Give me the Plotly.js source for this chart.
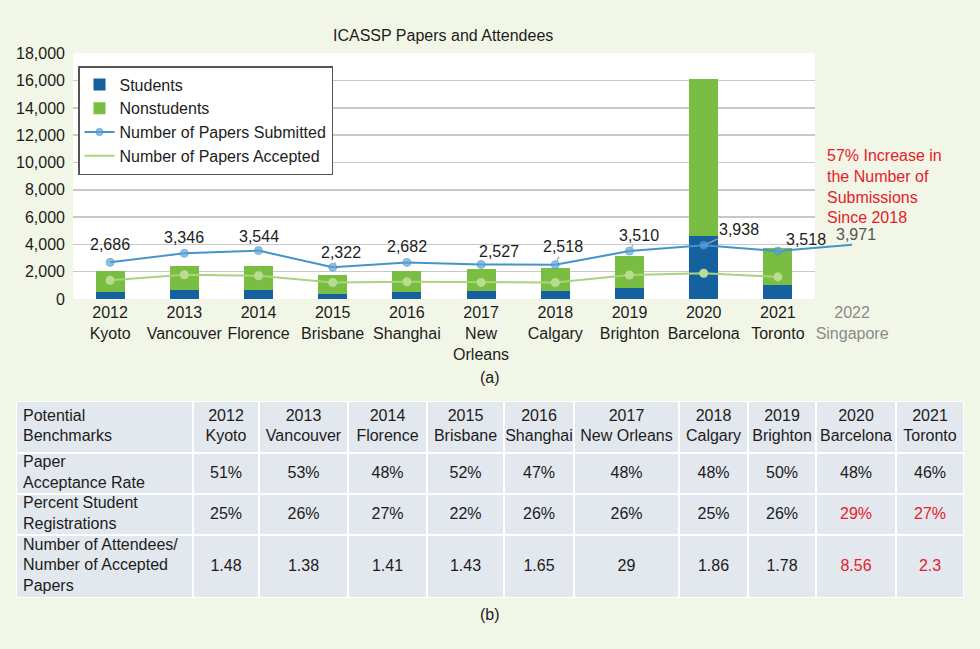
<!DOCTYPE html>
<html>
<head>
<meta charset="utf-8">
<script src="https://cdn.plot.ly/plotly-3.0.1.min.js"></script>
<style>html,body{margin:0;padding:0;background:#f2f6e6;}</style>
</head>
<body>
<div id="chart" style="width:980px;height:649px;"></div>
<script>
// ---------- data ----------
const years = ['2012','2013','2014','2015','2016','2017','2018','2019','2020','2021','2022'];
const cities = ['Kyoto','Vancouver','Florence','Brisbane','Shanghai','New Orleans','Calgary','Brighton','Barcelona','Toronto','Singapore'];
const students    = [507, 636, 648, 380, 541, 572, 562, 812, 4650, 1005];
const nonstudents = [1520, 1811, 1751, 1347, 1539, 1650, 1686, 2312, 11450, 2700];
const submitted   = [2686, 3346, 3544, 2322, 2682, 2527, 2518, 3510, 3938, 3518, 3971];
const accepted    = [1370, 1773, 1701, 1207, 1261, 1213, 1209, 1755, 1890, 1618];

const benchmarkHeader = 'Potential<br>Benchmarks';
const benchmarkLabels = ['Paper<br>Acceptance Rate', 'Percent Student<br>Registrations', 'Number of Attendees/<br>Number of Accepted<br>Papers'];
const acceptanceRate   = ['51%','53%','48%','52%','47%','48%','48%','50%','48%','46%'];
const studentShare     = ['25%','26%','27%','22%','26%','26%','25%','26%','29%','27%'];
const attendeesPerPaper = ['1.48','1.38','1.41','1.43','1.65','29','1.86','1.78','8.56','2.3'];
const tableRows = [acceptanceRate, studentShare, attendeesPerPaper];

const chartTitle = 'ICASSP Papers and Attendees';
const note = '57% Increase in<br>the Number of<br>Submissions<br>Since 2018';

// ---------- styling / layout ----------
const W = 980, H = 649;
const FONT = 'Liberation Sans, Arial, Helvetica, sans-serif';
const TXT = '#1c1c1c';
const RED = '#e8202a';
const plotL = 73, plotR = 815, plotT = 53.3, plotB = 299;
const catW = (plotR - plotL) / 10;
const xDom = [plotL / W, plotR / W];
const x2Dom = [plotL / W, (plotR + catW) / W];
const yDom = [1 - plotB / H, 1 - plotT / H];

const tblL = 16, tblR = 964, tblT = 401, tblB = 598;
const colWidths = [177, 66, 89, 79, 77, 70, 105, 69, 68, 80, 68];
const rowHeights = [52, 41, 41, 63];
const colEdges = [0]; colWidths.forEach(w => colEdges.push(colEdges[colEdges.length-1] + w));
const rowEdges = [0]; rowHeights.forEach(h => rowEdges.push(rowEdges[rowEdges.length-1] + h));
const colCenters = colWidths.map((w,i) => colEdges[i] + w/2);
const rowCenters = rowHeights.map((h,i) => rowEdges[i] + h/2);
const highlightRows = [1, 2];          // indices in tableRows drawn red
const highlightYears = ['2020','2021'];

// label offsets (px) and leader flags for the submitted-paper labels
const labelOffsets = [[0,-18],[0,-16],[0,-14],[8,-15],[0,-16],[18,-13],[8,-18],[9,-16],[35,-16],[28,-11],[4,-10]];
const labelLeader  = [false,false,false,true,false,false,true,true,true,true,false];

const barYears = years.slice(0, 10);
const axisText = years.map((y,i) => {
  const t = y + '<br>' + cities[i].replace(' ', '<br>');
  return i === years.length - 1 ? '<span style="color:#8a8a8a">' + t + '</span>' : t;
});

// ---------- traces ----------
const traces = [
  {type:'bar', name:'Students', x:barYears, y:students, marker:{color:'#15609f'}, xaxis:'x', yaxis:'y', hoverinfo:'skip'},
  {type:'bar', name:'Nonstudents', x:barYears, y:nonstudents, marker:{color:'#79bd42'}, xaxis:'x', yaxis:'y', hoverinfo:'skip'},
  {type:'scatter', mode:'lines+markers', name:'Number of Papers Submitted', x:years, y:submitted,
   line:{color:'#4593cb', width:2}, marker:{color:'#5ba4d8', size:years.map((_,i)=> i===years.length-1 ? 0 : 8), line:{color:'#4593cb', width:1}},
   xaxis:'x2', yaxis:'y2', hoverinfo:'skip', cliponaxis:false},
  {type:'scatter', mode:'lines', name:'Number of Papers Accepted', x:barYears, y:accepted,
   line:{color:'#a9d47c', width:2}, xaxis:'x2', yaxis:'y2', hoverinfo:'skip'},
  {type:'scatter', mode:'markers', showlegend:false, x:barYears, y:accepted,
   marker:{color:'#b8dd91', size:9}, xaxis:'x2', yaxis:'y2', hoverinfo:'skip'},
  // table cells
  {type:'heatmap', x:colEdges, y:rowEdges, z:rowHeights.map(()=>colWidths.map(()=>1)), zmin:0, zmax:2,
   colorscale:[[0,'#e3e7ee'],[1,'#e3e7ee']], showscale:false, xgap:2, ygap:2, hoverinfo:'skip', xaxis:'x3', yaxis:'y3'}
];

// first column labels
traces.push({type:'scatter', mode:'text', showlegend:false, hoverinfo:'skip', xaxis:'x3', yaxis:'y3',
  x: rowCenters.map(()=>7), y: rowCenters, text:[benchmarkHeader].concat(benchmarkLabels),
  textposition:'middle right', textfont:{family:FONT, size:16, color:TXT}});
// header + value cells
const cx = [], cy = [], ct = [], cc = [];
barYears.forEach((y,i) => { cx.push(colCenters[i+1]); cy.push(rowCenters[0]); ct.push(y + '<br>' + cities[i]); cc.push(TXT); });
tableRows.forEach((row,r) => row.forEach((v,i) => {
  cx.push(colCenters[i+1]); cy.push(rowCenters[r+1]); ct.push(v);
  cc.push(highlightRows.includes(r) && highlightYears.includes(barYears[i]) ? RED : TXT);
}));
traces.push({type:'scatter', mode:'text', showlegend:false, hoverinfo:'skip', xaxis:'x3', yaxis:'y3',
  x:cx, y:cy, text:ct, textposition:'middle center', textfont:{family:FONT, size:16, color:cc}});

// ---------- annotations ----------
const annotations = [
  {xref:'paper', yref:'paper', x:443/W, y:1-35/H, xanchor:'center', yanchor:'middle', text:chartTitle, showarrow:false, font:{family:FONT, size:16, color:TXT}},
  {xref:'paper', yref:'paper', x:490/W, y:1-377/H, xanchor:'center', yanchor:'middle', text:'(a)', showarrow:false, font:{family:FONT, size:16, color:TXT}},
  {xref:'paper', yref:'paper', x:490/W, y:1-614/H, xanchor:'center', yanchor:'middle', text:'(b)', showarrow:false, font:{family:FONT, size:16, color:TXT}},
  {xref:'paper', yref:'paper', x:825/W, y:1-145/H, xanchor:'left', yanchor:'top', align:'left', text:note, showarrow:false, font:{family:FONT, size:16, color:RED}}
];
submitted.forEach((v,i) => {
  const [dx, dy] = labelOffsets[i];
  const a = {xref:'x2', yref:'y2', x:i, y:v, text:v.toLocaleString('en-US'),
    font:{family:FONT, size:16, color: i === years.length-1 ? '#555' : TXT}};
  if (labelLeader[i]) {
    Object.assign(a, {showarrow:true, ax:dx, ay:dy, arrowhead:0, arrowwidth:1.3, arrowcolor:'#a9a9a9', standoff:3});
  } else {
    Object.assign(a, {showarrow:false, xanchor:'center', yanchor:'middle', xshift:dx, yshift:-dy});
  }
  annotations.push(a);
});

const layout = {
  width:W, height:H, margin:{l:0, r:0, t:0, b:0},
  paper_bgcolor:'#f2f6e6', plot_bgcolor:'rgba(0,0,0,0)',
  font:{family:FONT, size:16, color:TXT},
  barmode:'stack', bargap:0.61,
  showlegend:true,
  legend:{x:78/W, y:1-66/H, xanchor:'left', yanchor:'top', bgcolor:'#ffffff', bordercolor:'#555555', borderwidth:1.5,
          traceorder:'normal', font:{family:FONT, size:16, color:TXT}, itemwidth:30, tracegroupgap:0},
  xaxis:{domain:xDom, anchor:'y', type:'category', range:[-0.5, 9.5], showticklabels:false, showgrid:false, zeroline:false, showline:false, fixedrange:true},
  yaxis:{domain:yDom, anchor:'x', range:[0, 18000], dtick:2000, tickformat:',d', gridcolor:'#c8c8c8', gridwidth:1.5,
         zeroline:false, showline:false, ticks:'', ticklabelstandoff:7, tickfont:{family:FONT, size:16, color:TXT}, fixedrange:true},
  xaxis2:{domain:x2Dom, anchor:'y2', type:'category', range:[-0.5, 10.5], tickmode:'array', tickvals:years, ticktext:axisText,
          showgrid:false, zeroline:false, showline:false, ticks:'', ticklabelstandoff:2, tickfont:{family:FONT, size:16, color:TXT}, fixedrange:true},
  yaxis2:{domain:yDom, anchor:'x2', range:[0, 18000], visible:false, fixedrange:true},
  xaxis3:{domain:[tblL/W, tblR/W], anchor:'y3', range:[0, colEdges[colEdges.length-1]], visible:false, fixedrange:true},
  yaxis3:{domain:[1-tblB/H, 1-tblT/H], anchor:'x3', range:[rowEdges[rowEdges.length-1], 0], visible:false, fixedrange:true},
  shapes:[
    {type:'rect', xref:'x domain', yref:'y domain', x0:0, x1:1, y0:0, y1:1, fillcolor:'#ffffff', line:{width:0}, layer:'below'},
    {type:'rect', xref:'x3 domain', yref:'y3 domain', x0:0, x1:1, y0:0, y1:1, fillcolor:'#ffffff', line:{width:0}, layer:'below'}
  ],
  annotations:annotations
};

Plotly.newPlot('chart', traces, layout, {displayModeBar:false, staticPlot:true});
</script>
</body>
</html>
